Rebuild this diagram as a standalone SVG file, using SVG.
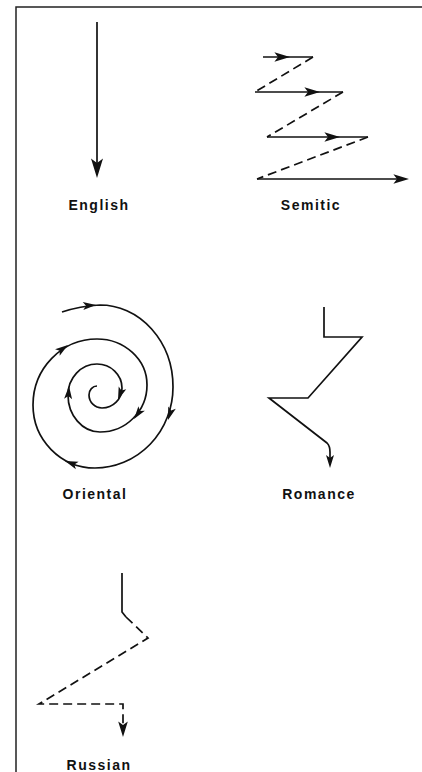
<svg xmlns="http://www.w3.org/2000/svg" xmlns:xlink="http://www.w3.org/1999/xlink" width="422" height="772" viewBox="0 0 422 772">
<style>
.ln{fill:none;stroke:#111;stroke-width:1.7;stroke-linejoin:miter}
.ds{fill:none;stroke:#111;stroke-width:1.7;stroke-dasharray:9 5}
.lbl{font-family:"Liberation Sans",Arial,sans-serif;font-weight:bold;font-size:14px;letter-spacing:1.5px;fill:#111;text-anchor:middle}
</style>
<defs>
<path id="ah" d="M0,0 L-13,-4 L-10,0 L-13,4 Z" fill="#111"/>
</defs>
<rect width="422" height="772" fill="#fff"/>
<g id="frame">
<path d="M16,772 L16,7 L422,7" fill="none" stroke="#222" stroke-width="1.5"/>
</g>
<g id="connectors">
<!-- English -->
<path class="ln" d="M97,22 L97,170"/>
<use xlink:href="#ah" transform="translate(97,178) rotate(90) scale(1.5)"/>
<!-- Semitic -->
<path class="ln" d="M263,57 L313,57"/>
<path class="ds" d="M313,57 L255,92"/>
<path class="ln" d="M255,92 L343,92"/>
<path class="ds" d="M343,92 L267,137"/>
<path class="ln" d="M267,137 L368,137"/>
<path class="ds" d="M368,137 L257,179"/>
<path class="ln" d="M257,179 L404,179"/>
<use xlink:href="#ah" transform="translate(290,57) scale(1.2)"/>
<use xlink:href="#ah" transform="translate(320,92) scale(1.2)"/>
<use xlink:href="#ah" transform="translate(340,137) scale(1.2)"/>
<use xlink:href="#ah" transform="translate(409,179) scale(1.2)"/>
<!-- Oriental spiral -->
<path class="ln" d="M62,312 Q80,306 100,305 A73,82 0 0 1 173,387 A78,81 0 0 1 95,468 A62,63 0 0 1 33,405 A64,66 0 0 1 97,339 A50,46 0 0 1 147,385 A47,47 0 0 1 100,432 A32,37 0 0 1 68,395 A29,31 0 0 1 97,364 A25,24 0 0 1 122,388 A20,20 0 0 1 102,408 A13,13 0 0 1 89,395 A8,9 0 0 1 97,386"/>
<use xlink:href="#ah" transform="translate(96,305) rotate(-4)"/>
<use xlink:href="#ah" transform="translate(168,420) rotate(108)"/>
<use xlink:href="#ah" transform="translate(65,461) rotate(200)"/>
<use xlink:href="#ah" transform="translate(68,345) rotate(-35)"/>
<use xlink:href="#ah" transform="translate(134,419) rotate(126)"/>
<use xlink:href="#ah" transform="translate(69,386) rotate(-86)"/>
<use xlink:href="#ah" transform="translate(118,400) rotate(110)"/>
<!-- Romance -->
<path class="ln" d="M324,307 L324,337 L362,337 L308,398 L269,398 L327,443 Q330,446 330,452 L330,462"/>
<use xlink:href="#ah" transform="translate(330,468) rotate(90)"/>
<!-- Russian -->
<path class="ln" d="M122,573 L122,612 L126,617"/>
<path class="ds" d="M126,617 L148,638 L39,704 L123,704 L123,730"/>
<use xlink:href="#ah" transform="translate(123,737) rotate(90) scale(1.2)"/>
</g>
<g id="english"><text class="lbl" x="99" y="210">English</text></g>
<g id="semitic"><text class="lbl" x="311" y="210">Semitic</text></g>
<g id="oriental"><text class="lbl" x="95" y="499">Oriental</text></g>
<g id="romance"><text class="lbl" x="319" y="499">Romance</text></g>
<g id="russian"><text class="lbl" x="99" y="770">Russian</text></g>
</svg>
